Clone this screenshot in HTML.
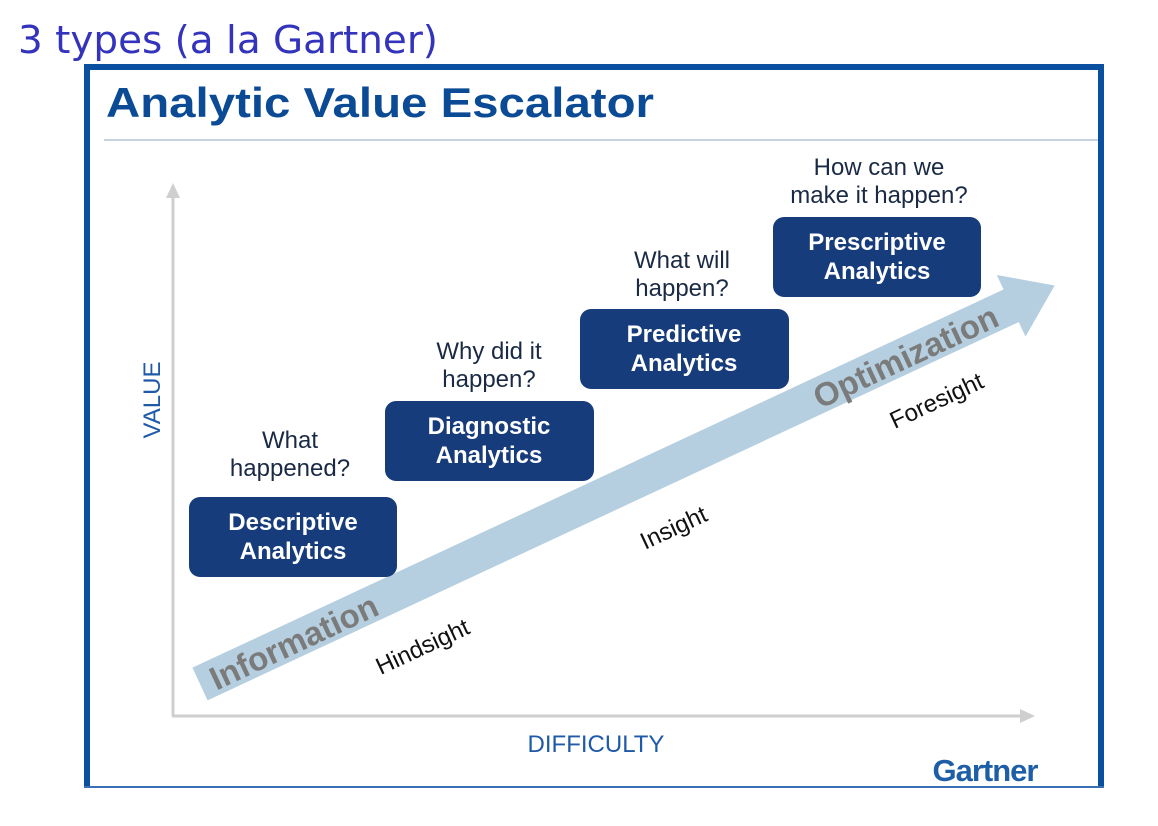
<!DOCTYPE html>
<html><head><meta charset="utf-8"><style>
html,body{margin:0;padding:0;background:#fff;width:1158px;height:826px;overflow:hidden}
</style></head><body>
<svg width="1158" height="826" viewBox="0 0 1158 826" xmlns="http://www.w3.org/2000/svg" font-family="Liberation Sans, Arial, sans-serif">
<text x="18" y="53" font-size="38" fill="#3333bb" font-family="DejaVu Sans, sans-serif" textLength="420" lengthAdjust="spacingAndGlyphs">3 types (a la Gartner)</text>
<!-- frame -->
<rect x="84" y="64" width="1020" height="6" fill="#0a4fa0"/>
<rect x="84" y="64" width="6" height="724" fill="#0a4fa0"/>
<rect x="1098" y="64" width="6" height="724" fill="#0a4fa0"/>
<rect x="84" y="786" width="1020" height="2" fill="#3a70b8"/>
<text x="106" y="117" font-size="42" font-weight="bold" fill="#0b4a94" textLength="548" lengthAdjust="spacingAndGlyphs">Analytic Value Escalator</text>
<rect x="104" y="139" width="994" height="2" fill="#c5d3e0"/>
<!-- axes -->
<line x1="173" y1="196" x2="173" y2="716" stroke="#cfcfcf" stroke-width="3"/>
<polygon points="166,198 173,183 180,198" fill="#cfcfcf"/>
<line x1="172" y1="716" x2="1022" y2="716" stroke="#cfcfcf" stroke-width="3"/>
<polygon points="1020,709 1035,716 1020,723" fill="#cfcfcf"/>
<text transform="translate(160,400) rotate(-90)" text-anchor="middle" font-size="24" fill="#1f5aa8">VALUE</text>
<text x="596" y="752" text-anchor="middle" font-size="24" fill="#1f5aa8">DIFFICULTY</text>
<text x="985" y="781" text-anchor="middle" font-size="31" font-weight="bold" fill="#1d5ea6" letter-spacing="-1">Gartner</text>
<!-- big arrow -->
<g transform="translate(200,684) rotate(-25)">
<rect x="0" y="-18" width="897" height="36" fill="#b5cfe0"/>
<polygon points="895,-34 943,0 895,34" fill="#b5cfe0"/>
<text x="12" y="13" font-size="33" font-weight="bold" fill="#7b7b7b">Information</text>
<text x="678" y="13" font-size="33" font-weight="bold" fill="#7b7b7b">Optimization</text>
</g>
<text transform="translate(426,654) rotate(-25)" text-anchor="middle" font-size="24" fill="#111">Hindsight</text>
<text transform="translate(677,535) rotate(-25)" text-anchor="middle" font-size="24" fill="#111">Insight</text>
<text transform="translate(940,408) rotate(-25)" text-anchor="middle" font-size="24" fill="#111">Foresight</text>
<!-- boxes -->
<g font-size="24" font-weight="bold" fill="#fff" text-anchor="middle">
<rect x="189" y="497" width="208" height="80" rx="11" fill="#173c7c"/>
<text x="293" y="530">Descriptive</text><text x="293" y="559">Analytics</text>
<rect x="385" y="401" width="209" height="80" rx="11" fill="#173c7c"/>
<text x="489" y="434">Diagnostic</text><text x="489" y="463">Analytics</text>
<rect x="580" y="309" width="209" height="80" rx="11" fill="#173c7c"/>
<text x="684" y="342">Predictive</text><text x="684" y="371">Analytics</text>
<rect x="773" y="217" width="208" height="80" rx="11" fill="#173c7c"/>
<text x="877" y="250">Prescriptive</text><text x="877" y="279">Analytics</text>
</g>
<g font-size="24" fill="#1a2a44" text-anchor="middle">
<text x="290" y="448">What</text><text x="290" y="476">happened?</text>
<text x="489" y="359">Why did it</text><text x="489" y="387">happen?</text>
<text x="682" y="268">What will</text><text x="682" y="296">happen?</text>
<text x="879" y="175">How can we</text><text x="879" y="203">make it happen?</text>
</g>
</svg>
</body></html>
